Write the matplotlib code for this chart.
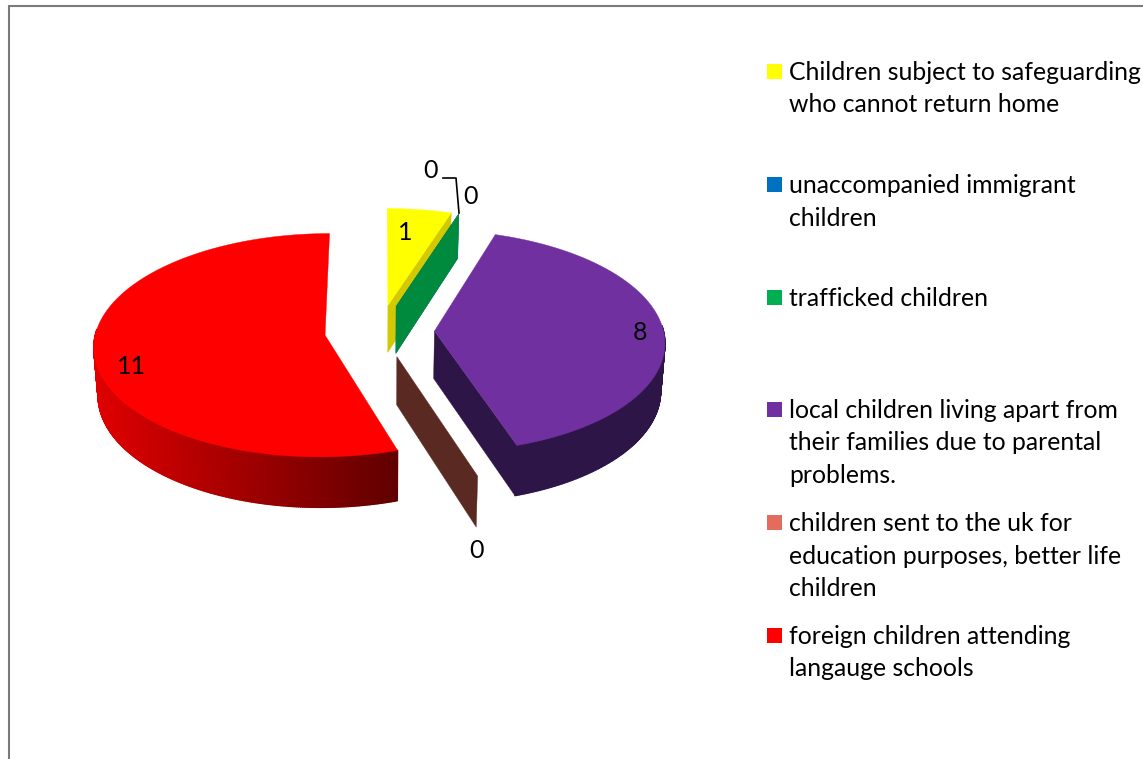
import numpy as np
import matplotlib
matplotlib.use("Agg")
import matplotlib.pyplot as plt
from matplotlib.patches import Polygon, Rectangle
from matplotlib.collections import PolyCollection
from matplotlib.colors import to_rgb

# pie data, clockwise from twelve o'clock
categories = [
    "Children subject to safeguarding\nwho cannot return home",
    "unaccompanied immigrant\nchildren",
    "trafficked children",
    "local children living apart from\ntheir families due to parental\nproblems.",
    "children sent to the uk for\neducation purposes, better life\nchildren",
    "foreign children attending\nlangauge schools",
]
values = [1, 0, 0, 8, 0, 11]
top_colors = ["#ffff00", "#0070c0", "#00b050", "#7030a0", "#e46c5f", "#ff0000"]
side_colors = ["#d2c900", "#005a9a", "#008a3e", "#2d1548", "#5a2a22", "#600000"]
# lighter end of the wall shading, None means flat
side_light = [None, None, None, None, None, "#e00000"]
legend_y = [71, 184, 297, 409, 522, 635]

# pixel layout of the pie
CX, CY = 379.5, 331
RX, RY = 229, 110
PERSP = 0.09
EXPLODE = 0.24
DEPTH = 47.5
BOTTOM = 0.985


def project(x, y, bottom=False):
    x = np.asarray(x, dtype=float)
    y = np.asarray(y, dtype=float)
    s = 1 / (1 + PERSP * y)
    px = RX * x * s
    py = -RY * y * s
    if bottom:
        return CX + px * BOTTOM, CY + py * BOTTOM + DEPTH * s
    return CX + px, CY + py


def draw_cut(ax, ox, oy, a, side):
    xs = np.array([ox, ox + np.sin(a)])
    ys = np.array([oy, oy + np.cos(a)])
    tx, ty = project(xs, ys)
    bx, by = project(xs, ys, bottom=True)
    pts = np.c_[np.r_[tx, bx[::-1]], np.r_[ty, by[::-1]]]
    ax.add_patch(Polygon(pts, fc=side, ec=side, lw=0.3, zorder=2))


def draw_slice(ax, start, sweep, top, side, light):
    mid = start + sweep / 2
    ox, oy = EXPLODE * np.sin(mid), EXPLODE * np.cos(mid)
    end = start + sweep

    # a zero slice is only its flat cut face
    if sweep == 0:
        draw_cut(ax, ox, oy, start, side)
        return

    # cut faces turned towards the viewer
    if np.sin(start) < -1e-6:
        draw_cut(ax, ox, oy, start, side)
    if np.sin(end) > 1e-6:
        draw_cut(ax, ox, oy, end, side)

    theta = np.linspace(start, end, max(int(np.degrees(sweep) * 2), 2))
    rim_x = ox + np.sin(theta)
    rim_y = oy + np.cos(theta)
    tx, ty = project(rim_x, rim_y)
    bx, by = project(rim_x, rim_y, bottom=True)

    # outer wall, only the front half is seen
    front = np.where(np.cos(theta[:-1]) < 0.05)[0]
    quads = [[(tx[i], ty[i]), (tx[i + 1], ty[i + 1]), (bx[i + 1], by[i + 1]), (bx[i], by[i])]
             for i in front]
    if quads:
        if light is None:
            cols = [to_rgb(side)] * len(quads)
        else:
            frac = (tx[front] - tx[front].min()) / (tx[front].max() - tx[front].min())
            dark_c = np.array(to_rgb(side))
            light_c = np.array(to_rgb(light))
            cols = [tuple(light_c + (dark_c - light_c) * f) for f in frac]
        ax.add_collection(PolyCollection(quads, facecolors=cols, edgecolors=cols, linewidths=1.0, zorder=2))

    # top face
    x0, y0 = project(ox, oy)
    ax.add_patch(Polygon(np.r_[[[x0, y0]], np.c_[tx, ty]], fc=top, ec=top, lw=0.3, zorder=2))


plt.rcParams["font.family"] = ["Lato", "DejaVu Sans"]
fig = plt.figure(figsize=(11.43, 7.59), dpi=100)
ax = fig.add_axes([0, 0, 1, 1])
ax.set_xlim(0, 1143)
ax.set_ylim(759, 0)
ax.axis("off")

# chart border, runs off the right and bottom
ax.plot([9, 9, 1143], [759, 6, 6], color="#7a7a7a", lw=1.5, solid_joinstyle="miter")

angle = 0.0
total = sum(values)
for v, top, side, light in zip(values, top_colors, side_colors, side_light):
    sweep = 2 * np.pi * v / total
    draw_slice(ax, angle, sweep, top, side, light)
    angle += sweep

# value labels
label_xy = [(405, 232), (431, 170), (471, 197), (640, 333), (476, 550), (131, 366)]
for v, (lx, ly) in zip(values, label_xy):
    ax.text(lx, ly, str(v), ha="center", va="center", fontsize=18, zorder=5)
ax.plot([443, 456, 459], [178, 178, 213], color="black", lw=1.2, zorder=5)

# legend
for label, col, y in zip(categories, top_colors, legend_y):
    ax.add_patch(Rectangle((767, y - 7), 15, 15, fc=col, ec="none"))
    ax.text(789, y - 10, label, ha="left", va="top", fontsize=17.85, linespacing=1.5, color="black")

fig.savefig("out.png", dpi=100)
